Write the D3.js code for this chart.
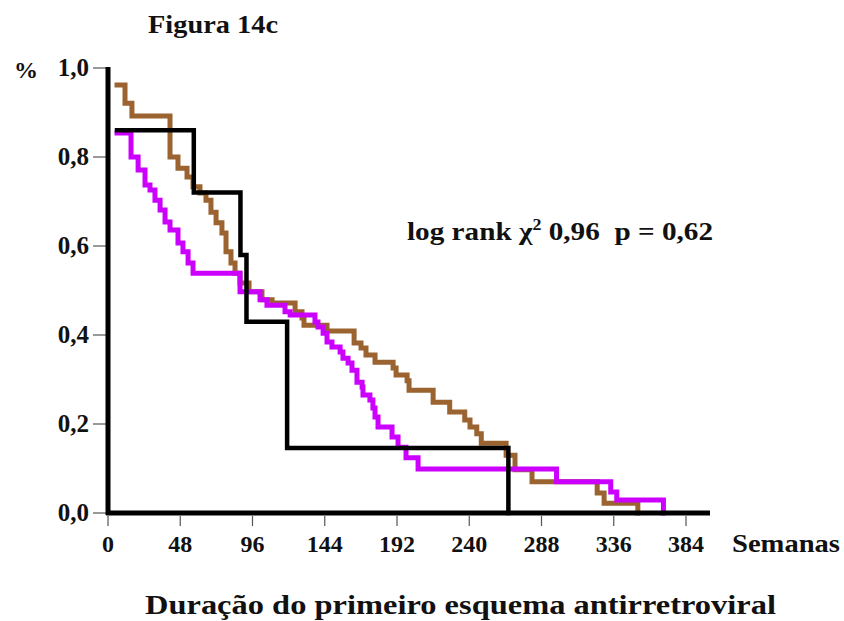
<!DOCTYPE html>
<html>
<head>
<meta charset="utf-8">
<script src="https://cdn.jsdelivr.net/npm/d3@7"></script>
<style>
  body { margin: 0; background: #fff; }
  svg text { font-family: "Liberation Serif", "Times New Roman", serif; font-weight: bold; fill: #111; }
</style>
</head>
<body>
<svg id="chart" width="844" height="621"></svg>
<script>
// Kaplan-Meier curves (weeks, survival after each drop)
const blackWeeks = [6, 57, 88, 92, 119, 266];
const blackSurv  = [0.86, 0.72, 0.58, 0.43, 0.146, 0];

const brownWeeks = [6, 11.3, 15.9, 41.2, 46.5, 52.5, 56.5, 61.1, 65.1, 68.4, 71.8, 75.7, 78.4, 81.7, 84.4, 87.7,
  93.7, 102.3, 109, 124.3, 128.9, 130.2, 145.5, 163.5, 168.1, 171.4, 177.4, 189.4, 191.4, 198.7, 200,
  216, 227, 237, 240.5, 245, 248, 264.5, 270.4, 281.7, 325, 329.6, 352];
const brownSurv  = [0.962, 0.921, 0.892, 0.80, 0.775, 0.755, 0.733, 0.719, 0.703, 0.676, 0.652, 0.629, 0.587, 0.562, 0.539, 0.517,
  0.497, 0.479, 0.472, 0.452, 0.438, 0.422, 0.409, 0.382, 0.371, 0.355, 0.339, 0.326, 0.310, 0.297, 0.276,
  0.249, 0.227, 0.209, 0.193, 0.178, 0.157, 0.130, 0.097, 0.070, 0.045, 0.022, 0];

const magentaWeeks = [6, 15.3, 20, 24.6, 27.9, 31.2, 34.6, 37.9, 41.2, 46.5, 49.8, 53.2, 56.5, 87.7, 101, 105.6,
  117.6, 121, 137.5, 139.5, 142.9, 145.5, 148.8, 154.2, 156.1, 159.5, 162.1, 165.4, 168.8, 169.4, 174, 176,
  177.4, 179.4, 188.7, 192.7, 198, 206, 298, 334, 338, 369];
const magentaSurv  = [0.854, 0.80, 0.771, 0.737, 0.726, 0.703, 0.681, 0.654, 0.636, 0.607, 0.587, 0.562, 0.539, 0.497, 0.479, 0.467,
  0.452, 0.445, 0.429, 0.418, 0.404, 0.384, 0.373, 0.362, 0.348, 0.337, 0.321, 0.294, 0.283, 0.265, 0.254, 0.236,
  0.216, 0.193, 0.171, 0.148, 0.124, 0.099, 0.070, 0.047, 0.029, 0];

const xTicks = [0, 48, 96, 144, 192, 240, 288, 336, 384];
const yTicks = [0, 0.2, 0.4, 0.6, 0.8, 1.0];
const yTickLabels = ["0,0", "0,2", "0,4", "0,6", "0,8", "1,0"];

const svg = d3.select('#chart');

// Scales
const x = d3.scaleLinear().domain([0, 384]).range([108, 686]);
const y = d3.scaleLinear().domain([0, 1]).range([513, 68]);

// Title
svg.append('text')
  .attr('x', 148).attr('y', 33)
  .attr('font-size', 26)
  .attr('textLength', 130).attr('lengthAdjust', 'spacingAndGlyphs')
  .text('Figura 14c');

svg.append('text')
  .attr('x', 14).attr('y', 78)
  .attr('font-size', 24)
  .text('%');

// Y axis ticks + labels
const yAxisG = svg.append('g');
yAxisG.selectAll('line')
  .data(yTicks)
  .join('line')
  .attr('x1', 93).attr('x2', 106)
  .attr('y1', d => y(d)).attr('y2', d => y(d))
  .attr('stroke', '#555').attr('stroke-width', 1.2);
yAxisG.selectAll('text')
  .data(yTicks)
  .join('text')
  .attr('x', 89)
  .attr('y', d => y(d) + 8)
  .attr('text-anchor', 'end')
  .attr('font-size', 25)
  .text((d, i) => yTickLabels[i]);

// X axis ticks + labels
const xAxisG = svg.append('g');
xAxisG.selectAll('line')
  .data(xTicks)
  .join('line')
  .attr('x1', d => x(d)).attr('x2', d => x(d))
  .attr('y1', 516).attr('y2', 526)
  .attr('stroke', '#555').attr('stroke-width', 1.2);
xAxisG.selectAll('text')
  .data(xTicks)
  .join('text')
  .attr('x', d => x(d))
  .attr('y', 552)
  .attr('text-anchor', 'middle')
  .attr('font-size', 24)
  .text(d => d);

svg.append('text')
  .attr('x', 732).attr('y', 552)
  .attr('font-size', 26)
  .attr('textLength', 108).attr('lengthAdjust', 'spacingAndGlyphs')
  .text('Semanas');

// Curves
const line = d3.line()
  .x(d => x(d[0]))
  .y(d => y(d[1]))
  .curve(d3.curveStepAfter);

const series = [
  { weeks: brownWeeks, surv: brownSurv, color: '#9a6330', width: 5 },
  { weeks: magentaWeeks, surv: magentaSurv, color: '#cc00ff', width: 5 },
  { weeks: blackWeeks, surv: blackSurv, color: '#000', width: 4.5 }
];

svg.append('g')
  .selectAll('path')
  .data(series)
  .join('path')
  .attr('d', s => line(s.weeks.map((w, i) => [w, s.surv[i]])))
  .attr('fill', 'none')
  .attr('stroke', s => s.color)
  .attr('stroke-width', s => s.width)
  .attr('stroke-linejoin', 'miter')
  .attr('stroke-linecap', 'square');

// Axis lines (thick)
svg.append('line')
  .attr('x1', x(0)).attr('x2', x(0))
  .attr('y1', y(1) - 1).attr('y2', y(0) + 2)
  .attr('stroke', '#000').attr('stroke-width', 5);
svg.append('line')
  .attr('x1', x(0) - 2).attr('x2', 710)
  .attr('y1', y(0)).attr('y2', y(0))
  .attr('stroke', '#000').attr('stroke-width', 5);

// Log rank annotation
const lr = svg.append('text')
  .attr('x', 407).attr('y', 240)
  .attr('font-size', 26)
  .attr('textLength', 306).attr('lengthAdjust', 'spacingAndGlyphs');
lr.append('tspan').text('log rank χ');
lr.append('tspan').attr('font-size', 16).attr('dy', -10).text('2');
lr.append('tspan').attr('dy', 10).text(' 0,96\u00a0\u00a0p = 0,62');

// Axis title
svg.append('text')
  .attr('x', 145).attr('y', 614)
  .attr('font-size', 28)
  .attr('textLength', 631).attr('lengthAdjust', 'spacingAndGlyphs')
  .text('Duração do primeiro esquema antirretroviral');
</script>
</body>
</html>
